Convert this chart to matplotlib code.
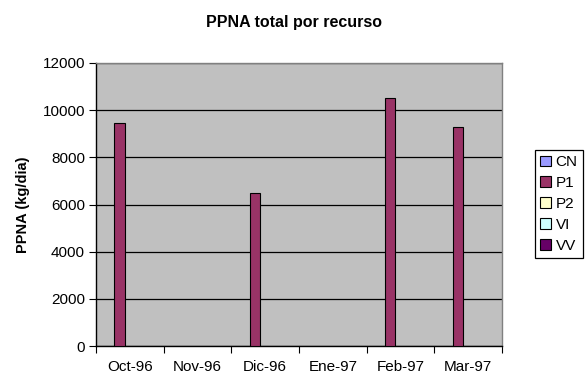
import matplotlib
matplotlib.use("Agg")
import matplotlib.pyplot as plt
from matplotlib.patches import Patch
import numpy as np

plt.rcParams['font.family'] = ['Liberation Sans', 'DejaVu Sans']

meses = ["Oct-96", "Nov-96", "Dic-96", "Ene-97", "Feb-97", "Mar-97"]
series = ["CN", "P1", "P2", "VI", "VV"]
CN = [0, 0, 0, 0, 0, 0]
P1 = [9450, 0, 6480, 0, 10500, 9280]
P2 = [0, 0, 0, 0, 0, 0]
VI = [0, 0, 0, 0, 0, 0]
VV = [0, 0, 0, 0, 0, 0]
valores = [CN, P1, P2, VI, VV]
colores = ["#9999FF", "#993366", "#FFFFCC", "#CCFFFF", "#660066"]

fig = plt.figure(figsize=(5.88, 3.9), dpi=100)
ax = fig.add_axes([96/588, 44/390, 406/588, 283/390])
ax.set_facecolor("#C0C0C0")

n = len(series)
gap = 1.5
w = 1.0 / (n + gap)
x = np.arange(len(meses))
handles = []
for i, (nom, val, c) in enumerate(zip(series, valores, colores)):
    pos = x - 0.5 + gap * w / 2 + (i + 0.5) * w
    v = np.array(val, dtype=float)
    mask = v > 0
    ax.bar(pos[mask], v[mask], width=w, color=c, edgecolor="black",
           linewidth=0.8, zorder=3)
    handles.append(Patch(facecolor=c, edgecolor="black", linewidth=0.8, label=nom))

ax.set_xlim(-0.5, len(meses) - 0.5)
ax.set_ylim(0, 12000)
ax.set_yticks(np.arange(0, 12001, 2000))
ax.yaxis.grid(True, color="black", linewidth=0.9, zorder=1)
ax.set_axisbelow(True)

ax.set_xticks(np.arange(len(meses) + 1) - 0.5)
ax.set_xticklabels([])
ax.set_xticks(x, minor=True)
ax.set_xticklabels(meses, minor=True)
ax.tick_params(axis="x", which="major", direction="out", length=5, color="black")
ax.tick_params(axis="x", which="minor", length=0, pad=10, labelsize=11)
ax.tick_params(axis="y", direction="out", length=5, labelsize=11, pad=3)

ax.spines["left"].set_color("black")
ax.spines["bottom"].set_color("black")
ax.spines["top"].set_color("#808080")
ax.spines["right"].set_color("#808080")
for s in ax.spines.values():
    s.set_linewidth(1.0)

ax.set_ylabel("PPNA (kg/dia)", fontsize=10.5, fontweight="bold", labelpad=9)
fig.text(294/588, 1 - 22/390, "PPNA total por recurso", ha="center", va="center",
         fontsize=11.5, fontweight="bold")

leg = ax.legend(handles=handles, loc="center left", bbox_to_anchor=(535/588, 1 - 204/390),
                bbox_transform=fig.transFigure, fontsize=11, frameon=True,
                fancybox=False, framealpha=1, edgecolor="black",
                handlelength=0.7, handleheight=0.7, handletextpad=0.3,
                labelspacing=0.45, borderpad=0.35, borderaxespad=0)
leg.get_frame().set_linewidth(0.9)

fig.savefig("out.png", dpi=100, facecolor="white")
